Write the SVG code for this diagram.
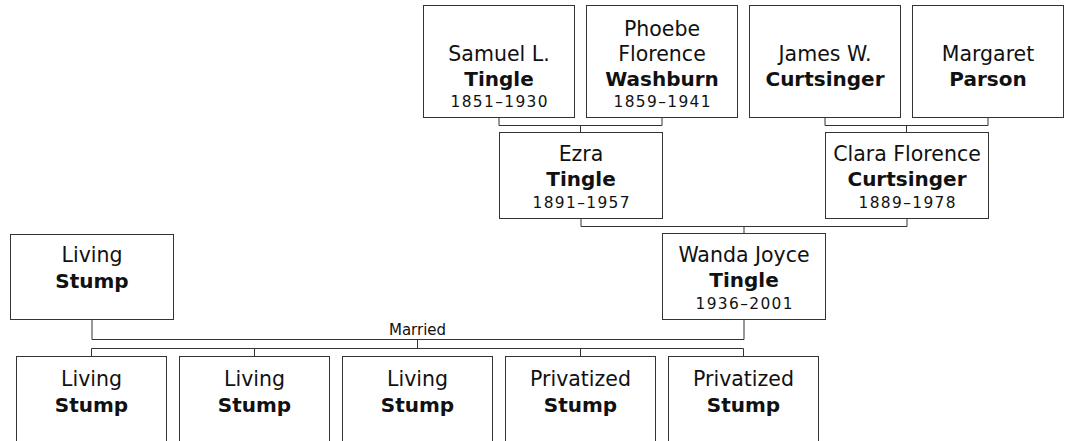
<svg xmlns="http://www.w3.org/2000/svg" width="1066" height="441" viewBox="0 0 1066 441">
<style>
.box{fill:#fff;stroke:#333;stroke-width:1}
.ln{fill:none;stroke:#333;stroke-width:1}
text{font-family:"DejaVu Sans","Verdana",sans-serif;fill:#111;text-anchor:middle}
.g{font-size:20.5px}
.s{font-size:20px;font-weight:bold}
.d{font-size:15.4px}
.m{font-size:15px}
</style>
<rect width="1066" height="441" fill="#fff"/>
<g id="connectors">
<path class="ln" d="M499 117.5V125.5H662V117.5M580.5 125.5V132.5"/>
<path class="ln" d="M825 117.5V125.5H988V117.5M906.5 125.5V132.5"/>
<path class="ln" d="M581 218.5V226.5H907V218.5M744 226.5V233.5"/>
<path class="ln" d="M92 319.5V339.5H744V319.5M417.5 339.5V348.5"/>
<path class="ln" d="M91.5 356.5V348.5H743.5V356.5M254.5 348.5V356.5M580.5 348.5V356.5"/>
<text class="m" x="417.5" y="335">Married</text>
</g>
<g id="samuel">
<rect class="box" x="423.5" y="5.5" width="151" height="112"/>
<text class="g" x="499" y="61">Samuel L.</text>
<text class="s" x="499" y="85.5">Tingle</text>
<text class="d" x="499" y="107" textLength="97" lengthAdjust="spacing">1851–1930</text>
</g>
<g id="phoebe">
<rect class="box" x="586.5" y="5.5" width="151" height="112"/>
<text class="g" x="662" y="36">Phoebe</text>
<text class="g" x="662" y="61">Florence</text>
<text class="s" x="662" y="85.5">Washburn</text>
<text class="d" x="662" y="107" textLength="97" lengthAdjust="spacing">1859–1941</text>
</g>
<g id="james">
<rect class="box" x="749.5" y="5.5" width="151" height="112"/>
<text class="g" x="825" y="61">James W.</text>
<text class="s" x="825" y="85.5">Curtsinger</text>
</g>
<g id="margaret">
<rect class="box" x="912.5" y="5.5" width="151" height="112"/>
<text class="g" x="988" y="61">Margaret</text>
<text class="s" x="988" y="85.5">Parson</text>
</g>
<g id="ezra">
<rect class="box" x="499.5" y="132.5" width="163" height="86"/>
<text class="g" x="581" y="161">Ezra</text>
<text class="s" x="581" y="186">Tingle</text>
<text class="d" x="581" y="207.5" textLength="97" lengthAdjust="spacing">1891–1957</text>
</g>
<g id="clara">
<rect class="box" x="825.5" y="132.5" width="163" height="86"/>
<text class="g" x="907" y="161">Clara Florence</text>
<text class="s" x="907" y="186">Curtsinger</text>
<text class="d" x="907" y="207.5" textLength="97" lengthAdjust="spacing">1889–1978</text>
</g>
<g id="wanda">
<rect class="box" x="662.5" y="233.5" width="163" height="86"/>
<text class="g" x="744" y="261.5">Wanda Joyce</text>
<text class="s" x="744" y="287">Tingle</text>
<text class="d" x="744" y="308.5" textLength="97" lengthAdjust="spacing">1936–2001</text>
</g>
<g id="living-parent">
<rect class="box" x="10.5" y="234.5" width="163" height="85"/>
<text class="g" x="92" y="262">Living</text>
<text class="s" x="92" y="288">Stump</text>
</g>
<g id="child1">
<rect class="box" x="16.5" y="356.5" width="150" height="100"/>
<text class="g" x="91.5" y="385.5">Living</text>
<text class="s" x="91.5" y="411.5">Stump</text>
</g>
<g id="child2">
<rect class="box" x="179.5" y="356.5" width="150" height="100"/>
<text class="g" x="254.5" y="385.5">Living</text>
<text class="s" x="254.5" y="411.5">Stump</text>
</g>
<g id="child3">
<rect class="box" x="342.5" y="356.5" width="150" height="100"/>
<text class="g" x="417.5" y="385.5">Living</text>
<text class="s" x="417.5" y="411.5">Stump</text>
</g>
<g id="child4">
<rect class="box" x="505.5" y="356.5" width="150" height="100"/>
<text class="g" x="580.5" y="385.5">Privatized</text>
<text class="s" x="580.5" y="411.5">Stump</text>
</g>
<g id="child5">
<rect class="box" x="668.5" y="356.5" width="150" height="100"/>
<text class="g" x="743.5" y="385.5">Privatized</text>
<text class="s" x="743.5" y="411.5">Stump</text>
</g>
</svg>
